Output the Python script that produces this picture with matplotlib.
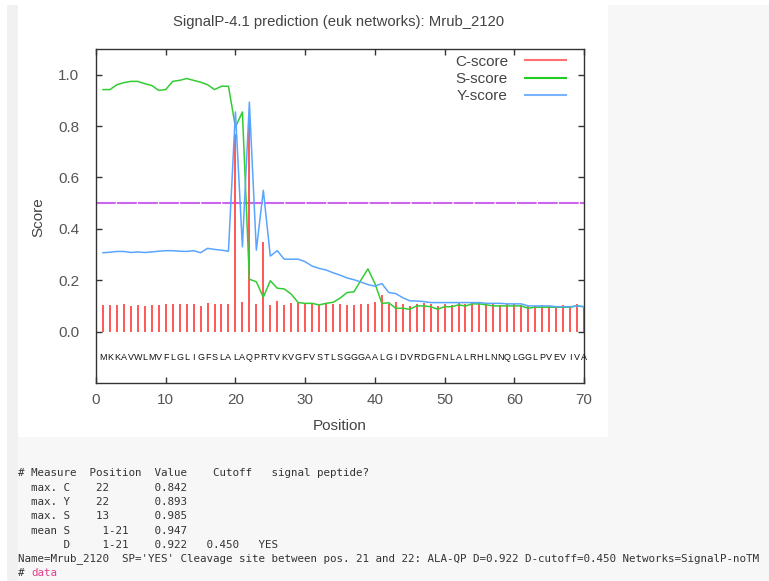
#!/usr/bin/env python3
import numpy as np
import matplotlib
matplotlib.use("Agg")
import matplotlib.pyplot as plt
from matplotlib.patches import Rectangle

plt.rcParams["font.family"] = ["Liberation Sans", "DejaVu Sans"]

seq_name = "Mrub_2120"
sequence = "MKKAVWLMVFLGLIGFSLALAQPRTVKVGFVSTLSGGGAALGIDVRDGFNLALRHLNNQLGGLPVEVIVA"
positions = np.arange(1, len(sequence) + 1)

c_score = [0.104, 0.104, 0.104, 0.108, 0.101, 0.104, 0.101, 0.104, 0.104, 0.106,
           0.108, 0.106, 0.106, 0.108, 0.100, 0.113, 0.108, 0.108, 0.108, 0.770,
           0.114, 0.842, 0.108, 0.350, 0.104, 0.119, 0.104, 0.113, 0.110, 0.110,
           0.106, 0.104, 0.106, 0.106, 0.108, 0.104, 0.104, 0.108, 0.108, 0.114,
           0.142, 0.108, 0.114, 0.108, 0.100, 0.108, 0.113, 0.108, 0.100, 0.108,
           0.104, 0.113, 0.108, 0.113, 0.110, 0.110, 0.108, 0.104, 0.108, 0.108,
           0.104, 0.100, 0.100, 0.104, 0.100, 0.100, 0.104, 0.100, 0.108, 0.100]

s_score = [0.942, 0.942, 0.961, 0.969, 0.974, 0.974, 0.965, 0.958, 0.939, 0.942,
           0.974, 0.978, 0.985, 0.978, 0.971, 0.961, 0.942, 0.955, 0.955, 0.796,
           0.855, 0.204, 0.194, 0.134, 0.198, 0.169, 0.166, 0.146, 0.113, 0.110,
           0.110, 0.104, 0.110, 0.114, 0.130, 0.152, 0.155, 0.200, 0.244, 0.188,
           0.110, 0.112, 0.091, 0.091, 0.087, 0.100, 0.100, 0.097, 0.087, 0.097,
           0.097, 0.104, 0.100, 0.108, 0.108, 0.104, 0.100, 0.100, 0.100, 0.100,
           0.100, 0.091, 0.095, 0.095, 0.095, 0.095, 0.095, 0.095, 0.100, 0.097]

y_score = [0.307, 0.309, 0.312, 0.312, 0.308, 0.310, 0.308, 0.310, 0.313, 0.315,
           0.315, 0.313, 0.312, 0.315, 0.307, 0.324, 0.320, 0.317, 0.313, 0.855,
           0.330, 0.893, 0.317, 0.550, 0.294, 0.315, 0.282, 0.282, 0.282, 0.272,
           0.255, 0.246, 0.240, 0.229, 0.220, 0.209, 0.202, 0.193, 0.183, 0.177,
           0.187, 0.152, 0.148, 0.132, 0.120, 0.119, 0.117, 0.113, 0.113, 0.113,
           0.113, 0.113, 0.113, 0.113, 0.113, 0.110, 0.110, 0.110, 0.108, 0.108,
           0.108, 0.100, 0.100, 0.100, 0.100, 0.097, 0.097, 0.097, 0.100, 0.097]

d_cutoff = 0.5

summary_lines = [
    "# Measure  Position  Value    Cutoff   signal peptide?",
    "  max. C    22       0.842",
    "  max. Y    22       0.893",
    "  max. S    13       0.985",
    "  mean S     1-21    0.947",
    "       D     1-21    0.922   0.450   YES",
    "Name=Mrub_2120  SP='YES' Cleavage site between pos. 21 and 22: ALA-QP "
    "D=0.922 D-cutoff=0.450 Networks=SignalP-noTM",
]

W, H = 769, 581
fig = plt.figure(figsize=(W / 100, H / 100), dpi=100)
fig.patch.set_facecolor("#f7f7f7")

# white panel behind the plot, like the page it sits on
def px_rect(x0, y0, w, h, color):
    fig.patches.append(Rectangle((x0 / W, 1 - (y0 + h) / H), w / W, h / H,
                                 transform=fig.transFigure, facecolor=color,
                                 edgecolor="none", zorder=-10))

px_rect(0, 0, W, 5, "white")
px_rect(0, 0, 7, H, "white")
px_rect(7, 5, 11, H - 5, "#f1f1f1")
px_rect(18, 0, 590, 437, "white")

ax = fig.add_axes([96 / W, 1 - 383 / H, 488 / W, 334 / H])
ax.set_zorder(5)
ax.set_facecolor("white")

ax.vlines(positions, 0, c_score, color="#ff4a4a", lw=1.3, zorder=2)
ax.plot(positions, s_score, color="#33cc33", lw=1.1, zorder=3)
ax.plot(positions, y_score, color="#5aa5ff", lw=1.1, zorder=4)
cut, = ax.plot([0, len(sequence)], [d_cutoff, d_cutoff], color="#cc66ee", lw=1.5, zorder=1)
cut.set_dashes((9.5, 0.6))

for p, aa in zip(positions, sequence):
    ax.text(p, -0.1, aa, ha="center", va="center", fontsize=6.5, color="#111111")

# legend handles
ax.plot([], [], color="#ff7070", lw=1.5, label="C-score")
ax.plot([], [], color="#22cc22", lw=1.5, label="S-score")
ax.plot([], [], color="#77b3ff", lw=1.5, label="Y-score")
ax.legend(loc="upper right", bbox_to_anchor=(0.963, 0.983), frameon=False,
          markerfirst=False, fontsize=11, handlelength=2.7, handletextpad=1.1,
          labelspacing=0.22, borderpad=0, borderaxespad=0, labelcolor="#444444")

ax.set_xlim(0, 70)
ax.set_ylim(-0.2, 1.1)
ax.set_xticks(np.arange(0, 71, 10))
ax.set_yticks(np.arange(0, 1.01, 0.2))
ax.set_yticklabels([f"{v:.1f}" for v in np.arange(0, 1.01, 0.2)])
ax.tick_params(direction="in", length=4, width=1, color="#333333",
               top=True, right=True, labelsize=11, labelcolor="#555555")
ax.tick_params(axis="y", pad=12)
ax.tick_params(axis="x", pad=7)
for s in ax.spines.values():
    s.set_color("#333333")
    s.set_linewidth(1.0)

fig.text(339 / W, 1 - 22 / H, f"SignalP-4.1 prediction (euk networks): {seq_name}",
         ha="center", va="center", fontsize=10.7, color="#444444")
fig.text(38 / W, 1 - 217 / H, "Score", ha="center", va="center", rotation=90,
         fontsize=11, color="#444444")
fig.text(340 / W, 1 - 426 / H, "Position", ha="center", va="center",
         fontsize=11, color="#444444")

# text output under the plot
mono = dict(ha="left", va="center", fontsize=7.8, family="DejaVu Sans Mono")
line_y = [473, 487.7, 501.7, 516, 530.7, 545, 559]
for y, line in zip(line_y, summary_lines):
    fig.text(18 / W, 1 - y / H, line, color="#333333", **mono)
fig.text(18 / W, 1 - 573 / H, "#", color="#333333", **mono)
fig.text((18 + 2 * 6.52) / W, 1 - 573 / H, "data", color="#e0408f", **mono)

fig.savefig("out.png", dpi=100, facecolor=fig.get_facecolor())
